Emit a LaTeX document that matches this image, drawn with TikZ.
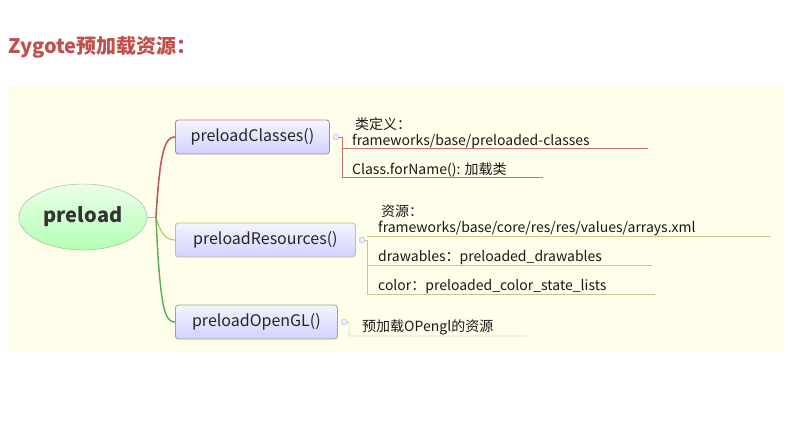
\documentclass[tikz,border=0pt]{standalone}
\usetikzlibrary{shapes.geometric}
\usepackage{fontspec}
\setmainfont{Noto Sans CJK SC}
\definecolor{ttl}{RGB}{192,80,77}
\definecolor{cB}{RGB}{192,128,128}
\definecolor{rB}{RGB}{200,190,120}
\definecolor{gB}{RGB}{120,190,110}
\definecolor{cL}{RGB}{190,90,90}
\definecolor{rL}{RGB}{200,190,110}
\definecolor{gL}{RGB}{90,170,80}
\definecolor{cT}{RGB}{200,110,110}
\definecolor{rT}{RGB}{205,195,130}
\definecolor{gT}{RGB}{110,185,100}
\begin{document}
\begin{tikzpicture}[x=1pt,y=-1pt,
  box/.style={draw=#1,line width=0.8pt,rounded corners=3pt,top color=blue!4,bottom color=blue!18,minimum height=34pt,inner xsep=4pt,anchor=west,font=\fontsize{16}{18}\selectfont,text=black!85},
  lbl/.style={anchor=south west,inner sep=0pt,font=\fontsize{14}{16}\selectfont,text=black!90,align=left},
  mk/.style={circle,draw=blue!30,fill=blue!8,inner sep=0pt,minimum size=6pt}]
\useasboundingbox (0,0) rectangle (790,421);
\fill[white] (0,0) rectangle (790,421);
\fill[yellow!8!white] (7,85) rectangle (783,352);
\node[anchor=west,inner sep=0pt,font=\fontsize{20}{22}\selectfont\bfseries,text=ttl] (title) at (8,47) {Zygote预加载资源：};
\node[ellipse,draw=black!35,top color=green!8,bottom color=green!30,minimum width=128pt,minimum height=66pt,font=\fontsize{20}{22}\selectfont\bfseries,text=black!80] (p) at (83,217) {preload};
\coordinate (j) at (156,217);
\node[box=cB,minimum width=154pt] (c) at (175,137) {preloadClasses()};
\node[box=rB,minimum width=180pt] (r) at (175,240) {preloadResources()};
\node[box=gB,minimum width=162pt] (g) at (175,322) {preloadOpenGL()};
\draw[black!30] (p.east) -- (j);
\draw[line width=1.6pt,cL] (j) .. controls (160,150) and (165,137) .. (c.west);
\draw[line width=1.2pt,rL] (j) .. controls (160,232) and (165,240) .. (r.west);
\draw[line width=1.4pt,gL] (j) .. controls (160,310) and (165,322) .. (g.west);
\node[mk] (mc) at (336,137) {};
\node[mk] (mr) at (362,240) {};
\node[mk] (mg) at (344,322) {};
% classes children
\node[lbl] (c1) at (352,149) {\hspace*{3pt}类定义：\\frameworks/base/preloaded-classes};
\node[lbl] (c2) at (352,177) {Class.forName(): 加载类};
\coordinate (c1e) at (648,148); \coordinate (c2e) at (543,177);
\draw[cT] (mc.east) -- (342,137) -- (342,177) -- (c2e);
\draw[cT] (342,148) -- (c1e);
% resources children
\node[lbl] (r1) at (378,236) {\hspace*{3pt}资源：\\frameworks/base/core/res/res/values/arrays.xml};
\node[lbl] (r2) at (378,265) {drawables：preloaded\_drawables};
\node[lbl] (r3) at (378,294) {color：preloaded\_color\_state\_lists};
\coordinate (r1e) at (770,236); \coordinate (r2e) at (652,265); \coordinate (r3e) at (655,294);
\draw[rT] (mr.east) -- (367,240) -- (367,294) -- (r3e);
\draw[rT] (367,236) -- (r1e);
\draw[rT] (367,265) -- (r2e);
% opengl child
\node[lbl] (g1) at (362,335) {预加载OPengl的资源};
\coordinate (g1e) at (526,336);
\draw[gT] (mg.east) -- (349,323) -- (349,336) -- (g1e);
\end{tikzpicture}
\end{document}
